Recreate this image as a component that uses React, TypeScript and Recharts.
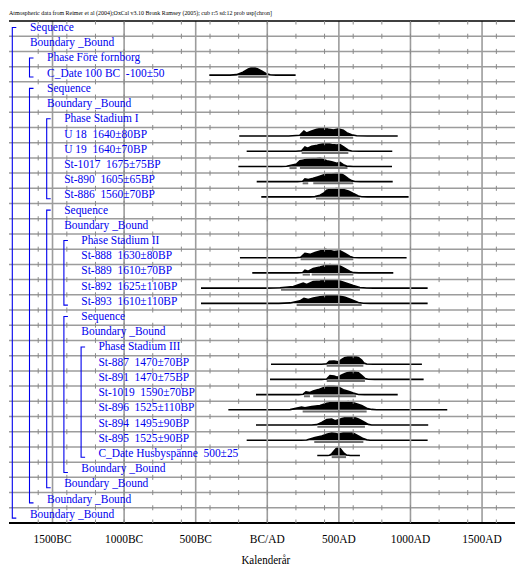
import React from 'react';
import { ComposedChart, XAxis, YAxis, Area, Scatter, ReferenceLine } from 'recharts';

// ---------- text ----------
const HEADER = 'Atmospheric data from Reimer et al (2004);OxCal v3.10 Bronk Ramsey (2005); cub r:5 sd:12 prob usp[chron]';
const AXIS_TITLE = 'Kalenderår';
const MAJOR_TICKS = [-1500, -1000, -500, 0, 500, 1000, 1500];
const TICK_LABELS = ['1500BC', '1000BC', '500BC', 'BC/AD', '500AD', '1000AD', '1500AD'];
const MINOR_YEARS = [-1600, -1400, -1200, -1000, -800, -600, -400, -200, 0, 200, 400, 600, 800, 1000, 1200, 1400, 1600];

const ROW_LABELS = [
  'Sequence',
  'Boundary _Bound',
  'Phase Före fornborg',
  'C_Date 100 BC  -100±50',
  'Sequence',
  'Boundary _Bound',
  'Phase Stadium I',
  'U 18  1640±80BP',
  'U 19  1640±70BP',
  'St-1017  1675±75BP',
  'St-890  1605±65BP',
  'St-886  1560±70BP',
  'Sequence',
  'Boundary _Bound',
  'Phase Stadium II',
  'St-888  1630±80BP',
  'St-889  1610±70BP',
  'St-892  1625±110BP',
  'St-893  1610±110BP',
  'Sequence',
  'Boundary _Bound',
  'Phase Stadium III',
  'St-887  1470±70BP',
  'St-891  1470±75BP',
  'St-1019  1590±70BP',
  'St-896  1525±110BP',
  'St-894  1495±90BP',
  'St-895  1525±90BP',
  'C_Date Husbyspänne  500±25',
  'Boundary _Bound',
  'Boundary _Bound',
  'Boundary _Bound',
  'Boundary _Bound',
];
const ROW_LEVELS = [0, 0, 1, 1, 1, 1, 2, 2, 2, 2, 2, 2, 2, 2, 3, 3, 3, 3, 3, 3, 3, 4, 4, 4, 4, 4, 4, 4, 4, 3, 2, 1, 0];
// [first row, last row, nesting level]
const BRACKETS: [number, number, number][] = [
  [1, 33, 0], [3, 4, 1], [5, 32, 1], [7, 12, 2], [13, 31, 2], [15, 19, 3], [20, 30, 3], [22, 29, 4],
];

// ---------- distributions: [calendar year, relative probability] ----------
const D_C100BC = [[-405, 0], [-260, 0], [-215, 0.06], [-170, 0.35], [-135, 0.72], [-100, 1], [-70, 0.78], [-40, 0.5], [-10, 0.2], [20, 0.05], [60, 0], [198, 0]];
const D_U18 = [[-196, 0], [150, 0], [228, 0.1], [256, 0.6], [275, 0.35], [310, 0.6], [345, 0.8], [396, 1.0], [426, 0.85], [461, 0.72], [496, 0.87], [531, 0.7], [554, 0.4], [589, 0.15], [624, 0.03], [700, 0], [911, 0]];
const D_U19 = [[-144, 0], [200, 0], [240, 0.05], [263, 0.5], [282, 0.35], [310, 0.6], [349, 0.72], [391, 0.92], [415, 1.0], [450, 0.8], [485, 0.75], [508, 0.8], [536, 0.5], [566, 0.12], [589, 0.02], [640, 0], [873, 0]];
const D_ST1017 = [[-202, 0], [100, 0], [135, 0.02], [205, 0.3], [228, 0.68], [247, 0.75], [275, 0.85], [345, 0.95], [368, 1.0], [415, 0.68], [450, 0.55], [485, 0.38], [508, 0.48], [531, 0.2], [554, 0.04], [600, 0], [871, 0]];
const D_ST890 = [[-74, 0], [210, 0], [247, 0.05], [263, 0.33], [286, 0.25], [321, 0.4], [356, 0.6], [391, 0.8], [415, 0.93], [450, 0.93], [485, 1.0], [520, 0.92], [543, 0.65], [566, 0.35], [589, 0.12], [612, 0.02], [650, 0], [876, 0]];
const D_ST886 = [[-42, 0], [300, 0], [333, 0.03], [368, 0.2], [396, 0.48], [415, 0.8], [450, 0.95], [485, 1.0], [531, 0.88], [566, 0.72], [601, 0.4], [636, 0.1], [659, 0.01], [700, 0], [987, 0]];
const D_ST888 = [[-191, 0], [200, 0], [233, 0.05], [263, 0.52], [298, 0.4], [333, 0.63], [368, 0.8], [408, 1.0], [438, 0.85], [466, 0.75], [508, 0.83], [543, 0.5], [578, 0.15], [601, 0.03], [640, 0], [973, 0]];
const D_ST889 = [[-105, 0], [210, 0], [247, 0.05], [263, 0.33], [286, 0.2], [321, 0.52], [368, 0.72], [408, 0.92], [438, 1.0], [473, 0.92], [508, 0.84], [543, 0.52], [578, 0.18], [601, 0.03], [640, 0], [880, 0]];
const D_ST892 = [[-463, 0], [0, 0], [89, 0.05], [182, 0.2], [251, 0.6], [275, 0.45], [321, 0.8], [368, 0.85], [415, 1.0], [461, 0.92], [508, 0.84], [554, 0.6], [601, 0.32], [647, 0.08], [694, 0.01], [740, 0], [1120, 0]];
const D_ST893 = [[-463, 0], [80, 0], [159, 0.05], [228, 0.3], [256, 0.6], [286, 0.45], [321, 0.64], [368, 0.8], [415, 0.92], [450, 1.0], [496, 0.9], [543, 0.72], [589, 0.44], [636, 0.1], [671, 0.01], [720, 0], [1120, 0]];
const D_ST887 = [[26, 0], [380, 0], [415, 0.05], [433, 0.36], [466, 0.38], [496, 0.28], [520, 0.56], [543, 0.8], [578, 0.96], [601, 1.0], [636, 0.8], [659, 0.5], [675, 0.15], [694, 0.02], [740, 0], [1080, 0]];
const D_ST891 = [[19, 0], [380, 0], [415, 0.05], [438, 0.45], [466, 0.4], [489, 0.25], [520, 0.52], [543, 0.72], [578, 0.92], [601, 1.0], [636, 0.8], [659, 0.48], [682, 0.12], [705, 0.01], [750, 0], [1092, 0]];
const D_ST1019 = [[-79, 0], [220, 0], [251, 0.05], [270, 0.33], [298, 0.25], [321, 0.44], [356, 0.6], [391, 0.84], [426, 1.0], [461, 1.0], [496, 0.92], [531, 0.6], [566, 0.4], [601, 0.2], [636, 0.02], [680, 0], [911, 0]];
const D_ST896 = [[-272, 0], [120, 0], [159, 0.02], [240, 0.32], [263, 0.25], [310, 0.4], [368, 0.52], [415, 0.8], [461, 0.92], [496, 0.85], [531, 0.92], [566, 1.0], [612, 0.8], [659, 0.52], [694, 0.2], [729, 0.05], [764, 0], [1257, 0]];
const D_ST894 = [[-79, 0], [310, 0], [345, 0.05], [380, 0.3], [415, 0.65], [450, 0.72], [473, 0.52], [496, 0.62], [520, 0.8], [554, 0.92], [589, 1.0], [612, 0.92], [647, 0.65], [682, 0.3], [705, 0.08], [729, 0], [1124, 0]];
const D_ST895 = [[-144, 0], [240, 0], [275, 0.03], [333, 0.32], [380, 0.52], [415, 0.72], [450, 0.9], [473, 0.85], [496, 0.72], [531, 0.9], [566, 1.0], [601, 0.85], [636, 0.52], [671, 0.2], [694, 0.05], [717, 0], [1120, 0]];
const D_HUSBY = [[349, 0], [420, 0], [435, 0.03], [450, 0.2], [466, 0.55], [485, 0.9], [496, 1.0], [508, 0.85], [531, 0.35], [554, 0.05], [580, 0], [647, 0]];

// highest-density ranges drawn under each distribution: [from, to]
const R_C100BC = [[-203, 7]];
const R_U18 = [[228, 600]];
const R_U19 = [[240, 566]];
const R_ST1017 = [[155, 205], [228, 560]];
const R_ST890 = [[247, 286], [321, 601]];
const R_ST886 = [[340, 647]];
const R_ST888 = [[233, 601]];
const R_ST889 = [[247, 298], [310, 601]];
const R_ST892 = [[96, 647]];
const R_ST893 = [[205, 659]];
const R_ST887 = [[415, 671]];
const R_ST891 = [[415, 682]];
const R_ST1019 = [[256, 298], [321, 620]];
const R_ST896 = [[247, 694]];
const R_ST894 = [[350, 682]];
const R_ST895 = [[328, 671]];
const R_HUSBY = [[450, 550]];

const SERIES = [
  { row: 4, pts: D_C100BC, ranges: R_C100BC },
  { row: 8, pts: D_U18, ranges: R_U18 },
  { row: 9, pts: D_U19, ranges: R_U19 },
  { row: 10, pts: D_ST1017, ranges: R_ST1017 },
  { row: 11, pts: D_ST890, ranges: R_ST890 },
  { row: 12, pts: D_ST886, ranges: R_ST886 },
  { row: 16, pts: D_ST888, ranges: R_ST888 },
  { row: 17, pts: D_ST889, ranges: R_ST889 },
  { row: 18, pts: D_ST892, ranges: R_ST892 },
  { row: 19, pts: D_ST893, ranges: R_ST893 },
  { row: 23, pts: D_ST887, ranges: R_ST887 },
  { row: 24, pts: D_ST891, ranges: R_ST891 },
  { row: 25, pts: D_ST1019, ranges: R_ST1019 },
  { row: 26, pts: D_ST896, ranges: R_ST896 },
  { row: 27, pts: D_ST894, ranges: R_ST894 },
  { row: 28, pts: D_ST895, ranges: R_ST895 },
  { row: 29, pts: D_HUSBY, ranges: R_HUSBY },
];

// ---------- layout ----------
const X_MIN = -1804;
const X_MAX = 1786;
const ROWS = ROW_LABELS.length;
const CHART_W = 515;
const CHART_H = 558;
const MARGIN = { top: 13, right: 0, bottom: 0, left: 1 };
const XAXIS_H = 43;
const ROW_PX = (CHART_H - MARGIN.top - MARGIN.bottom - XAXIS_H) / ROWS;
const PEAK = 0.545;
const BASE_OFF = 0.56;
const LABEL_OFF = 0.38;
const SERIF = "'Liberation Serif', 'Times New Roman', Times, serif";
const BLUE = '#0000ee';
const GRID = '#9c9c9c';

// ---------- derived tables ----------
const yearMap = new Map<number, any>();
SERIES.forEach((s) => {
  s.pts.forEach(([yr, p]) => {
    const rec = yearMap.get(yr) ?? { year: yr };
    rec['d' + s.row] = s.row - 1 + BASE_OFF - p * PEAK;
    yearMap.set(yr, rec);
  });
});
const TABLE = Array.from(yearMap.values()).sort((a, b) => a.year - b.year);

const ROW_LINES = Array.from({ length: ROWS - 1 }, (_, i) => i + 1);
const MINOR_POINTS: any[] = [];
MINOR_YEARS.forEach((yr) => {
  for (let r = 0; r <= ROWS; r++) MINOR_POINTS.push({ year: yr, y: r });
});
const LABEL_POINTS = ROW_LABELS.map((t, i) => ({ year: X_MIN, y: i + LABEL_OFF, text: t, level: ROW_LEVELS[i] }));
const BRACKET_POINTS = BRACKETS.map(([s, e, l]) => ({ year: X_MIN, y: s - 1 + LABEL_OFF + 0.05, span: e - s, level: l }));

const MinorTick = (props: any) => {
  const { cx, cy, payload } = props;
  const top = payload.y === 0 ? cy : cy - 2.5;
  const bottom = payload.y === ROWS ? cy : cy + 2.5;
  const y1 = payload.y === ROWS ? cy - 3.5 : top;
  const y2 = payload.y === 0 ? cy + 3.5 : bottom;
  return <line x1={cx} x2={cx} y1={y1} y2={y2} stroke="#8a8a8a" strokeWidth={1} />;
};

const RowLabel = (props: any) => {
  const { cx, cy, payload } = props;
  const x = cx + 21 + payload.level * 17.1;
  return (
    <text
      transform={`translate(${x},${cy}) scale(0.88,1)`}
      fontFamily={SERIF}
      fontSize={13}
      fill={BLUE}
      dominantBaseline="central"
      style={{ whiteSpace: 'pre' }}
    >
      {payload.text}
    </text>
  );
};

const Bracket = (props: any) => {
  const { cx, cy, payload } = props;
  const bx = cx + 3.3 + payload.level * 17.2;
  const len = (payload.span + 0.25) * ROW_PX;
  return <path d={`M${bx + 4},${cy} H${bx} V${cy + len} H${bx + 4}`} fill="none" stroke={BLUE} strokeWidth={1.1} />;
};

const XTick = (props: any) => {
  const { x, y, payload } = props;
  const idx = MAJOR_TICKS.indexOf(payload.value);
  return (
    <text
      transform={`translate(${x},${y + 16}) scale(0.88,1)`}
      textAnchor="middle"
      dominantBaseline="central"
      fontFamily={SERIF}
      fontSize={13}
      fill="#000"
    >
      {TICK_LABELS[idx]}
    </text>
  );
};

const Nothing = () => <g />;

export default function App() {
  return (
    <div style={{ position: 'relative', width: CHART_W, height: CHART_H }}>
      <ComposedChart width={CHART_W} height={CHART_H} data={TABLE} margin={MARGIN}>
        <XAxis
          type="number"
          dataKey="year"
          domain={[X_MIN, X_MAX]}
          allowDataOverflow
          ticks={MAJOR_TICKS}
          interval={0}
          height={XAXIS_H}
          tickLine={false}
          tickSize={0}
          tickMargin={0}
          tick={<XTick />}
          axisLine={{ stroke: '#000', strokeWidth: 2 }}
        />
        <YAxis
          yAxisId="rows"
          type="number"
          domain={[0, ROWS]}
          allowDataOverflow
          reversed
          ticks={ROW_LINES}
          interval={0}
          width={0}
          tick={false}
          tickLine={false}
          axisLine={{ stroke: '#000', strokeWidth: 1.5 }}
        />
        {SERIES.map((s) => (
          <Area
            key={'a' + s.row}
            yAxisId="rows"
            dataKey={'d' + s.row}
            type="linear"
            baseValue={s.row - 1 + BASE_OFF}
            connectNulls
            stroke="#000"
            strokeWidth={1.6}
            fill="#000"
            fillOpacity={1}
            dot={false}
            activeDot={false}
            isAnimationActive={false}
          />
        ))}
        {SERIES.flatMap((s) =>
          s.ranges.map(([a, b], j) => (
            <Scatter
              key={'r' + s.row + '-' + j}
              yAxisId="rows"
              data={[
                { year: a, y: s.row - 1 + BASE_OFF + 0.11 },
                { year: b, y: s.row - 1 + BASE_OFF + 0.11 },
              ]}
              dataKey="y"
              line={{ stroke: '#6e6e6e', strokeWidth: 2 }}
              shape={<Nothing />}
              isAnimationActive={false}
            />
          ))
        )}
        {ROW_LINES.map((r) => (
          <ReferenceLine key={'h' + r} yAxisId="rows" y={r} stroke={GRID} strokeWidth={1.5} />
        ))}
        {MAJOR_TICKS.map((t) => (
          <ReferenceLine key={'v' + t} yAxisId="rows" x={t} stroke={GRID} strokeWidth={1.6} />
        ))}
        <ReferenceLine yAxisId="rows" y={0} stroke="#000" strokeWidth={1.5} />
        <Scatter yAxisId="rows" data={MINOR_POINTS} dataKey="y" shape={<MinorTick />} isAnimationActive={false} />
        <Scatter yAxisId="rows" data={BRACKET_POINTS} dataKey="y" shape={<Bracket />} isAnimationActive={false} />
        <Scatter yAxisId="rows" data={LABEL_POINTS} dataKey="y" shape={<RowLabel />} isAnimationActive={false} />
      </ComposedChart>
      <svg
        width={CHART_W}
        height={CHART_H}
        style={{ position: 'absolute', left: 0, top: 0, overflow: 'visible', pointerEvents: 'none' }}
      >
        <text x={1} y={4.8} fontFamily={SERIF} fontSize={7} fill="#000" dominantBaseline="central" textLength={263} lengthAdjust="spacingAndGlyphs">
          {HEADER}
        </text>
        <text
          transform={`translate(257.8,552) scale(0.88,1)`}
          textAnchor="middle"
          dominantBaseline="central"
          fontFamily={SERIF}
          fontSize={12.5}
          fill="#000"
        >
          {AXIS_TITLE}
        </text>
      </svg>
    </div>
  );
}
